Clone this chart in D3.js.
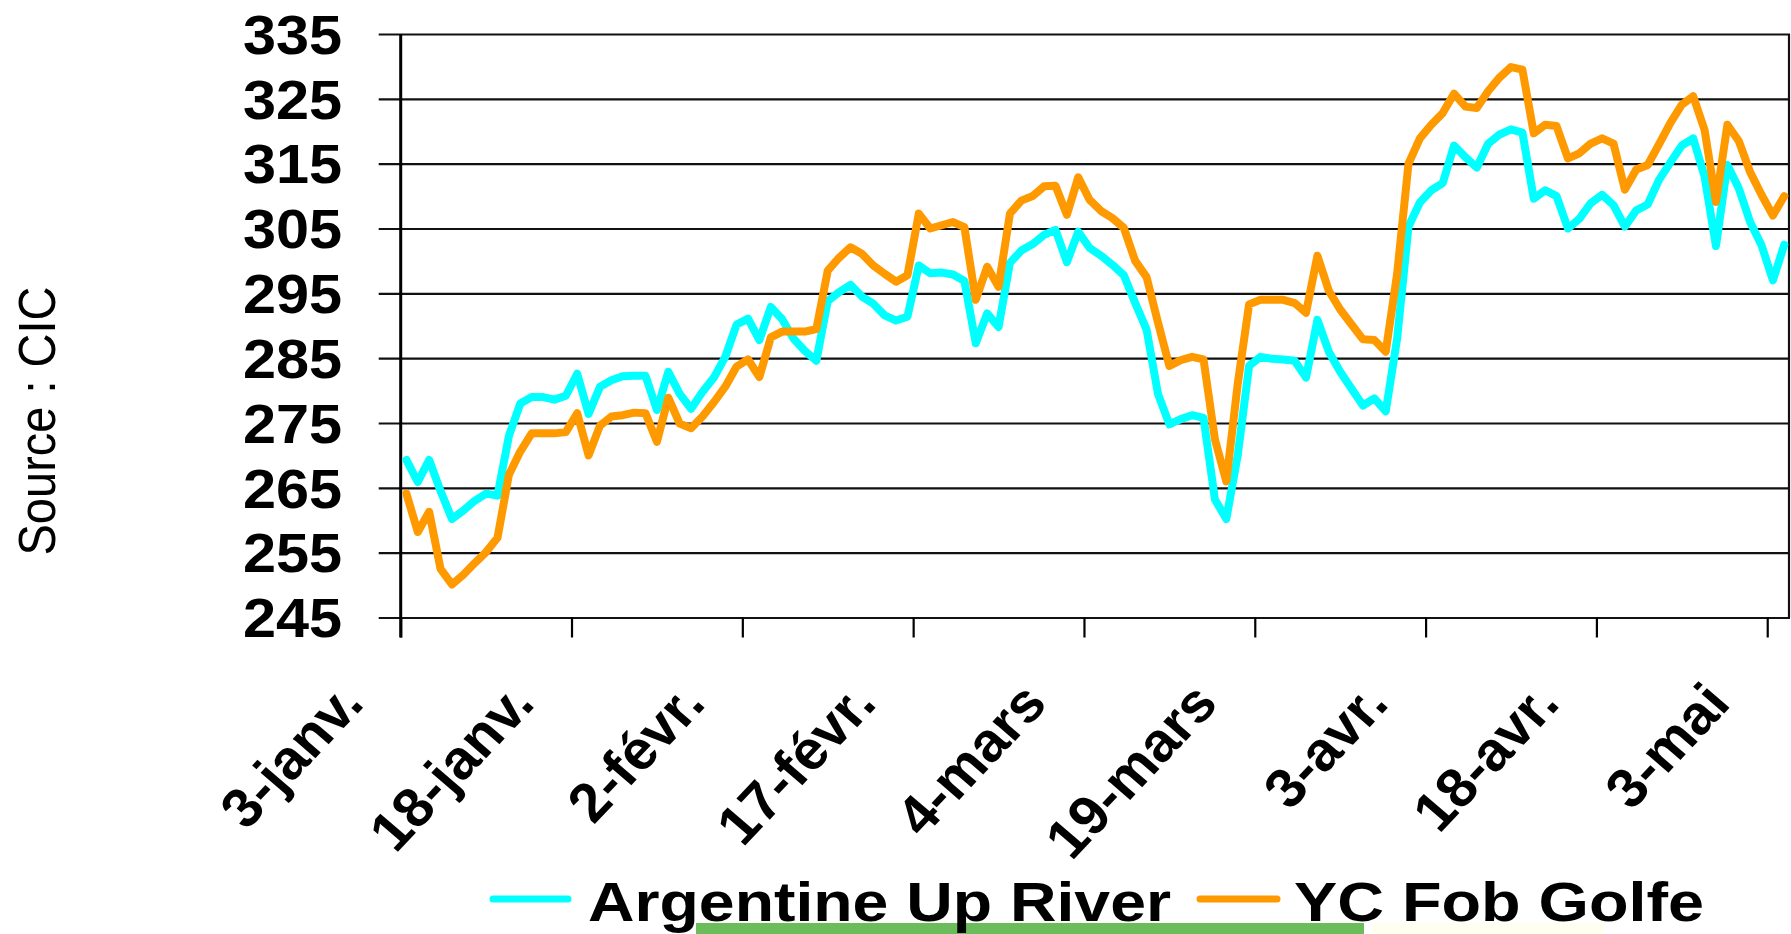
<!DOCTYPE html>
<html><head><meta charset="utf-8">
<script src="https://cdn.jsdelivr.net/npm/d3@7"></script>
<style>html,body{margin:0;padding:0;background:#fff;} svg{display:block}</style>
</head><body>
<script>
// ---- DATA ----
const dates = [
"2011-01-03","2011-01-04","2011-01-05","2011-01-06","2011-01-07","2011-01-08","2011-01-09","2011-01-10","2011-01-11","2011-01-12",
"2011-01-13","2011-01-14","2011-01-15","2011-01-16","2011-01-17","2011-01-18","2011-01-19","2011-01-20","2011-01-21","2011-01-22",
"2011-01-23","2011-01-24","2011-01-25","2011-01-26","2011-01-27","2011-01-28","2011-01-29","2011-01-30","2011-01-31","2011-02-01",
"2011-02-02","2011-02-03","2011-02-04","2011-02-05","2011-02-06","2011-02-07","2011-02-08","2011-02-09","2011-02-10","2011-02-11",
"2011-02-12","2011-02-13","2011-02-14","2011-02-15","2011-02-16","2011-02-17","2011-02-18","2011-02-19","2011-02-20","2011-02-21",
"2011-02-22","2011-02-23","2011-02-24","2011-02-25","2011-02-26","2011-02-27","2011-02-28","2011-03-01","2011-03-02","2011-03-03",
"2011-03-04","2011-03-05","2011-03-06","2011-03-07","2011-03-08","2011-03-09","2011-03-10","2011-03-11","2011-03-12","2011-03-13",
"2011-03-14","2011-03-15","2011-03-16","2011-03-17","2011-03-18","2011-03-19","2011-03-20","2011-03-21","2011-03-22","2011-03-23",
"2011-03-24","2011-03-25","2011-03-26","2011-03-27","2011-03-28","2011-03-29","2011-03-30","2011-03-31","2011-04-01","2011-04-02",
"2011-04-03","2011-04-04","2011-04-05","2011-04-06","2011-04-07","2011-04-08","2011-04-09","2011-04-10","2011-04-11","2011-04-12",
"2011-04-13","2011-04-14","2011-04-15","2011-04-16","2011-04-17","2011-04-18","2011-04-19","2011-04-20","2011-04-21","2011-04-22",
"2011-04-23","2011-04-24","2011-04-25","2011-04-26","2011-04-27","2011-04-28","2011-04-29","2011-04-30","2011-05-01","2011-05-02",
"2011-05-03","2011-05-04"];

const argentineUpRiver = [
269.3,265.9,269.3,264.5,260.2,261.5,263.0,264.1,263.8,273.0,
278.0,279.0,279.0,278.6,279.2,282.6,276.4,280.6,281.6,282.2,
282.3,282.3,277.0,282.9,279.5,277.2,279.8,282.0,285.2,290.2,
291.1,287.8,292.9,291.0,288.0,286.1,284.6,293.8,295.2,296.3,
294.5,293.4,291.6,290.8,291.4,299.3,298.1,298.2,297.9,296.9,
287.3,291.9,289.8,299.7,301.6,302.6,304.0,304.8,299.8,304.5,
302.0,300.8,299.4,297.8,293.5,289.4,279.5,274.8,275.6,276.2,
275.8,263.2,260.2,270.0,283.8,285.2,284.9,284.8,284.6,282.0,
290.9,286.0,282.9,280.3,277.7,278.8,276.8,288.0,305.3,309.0,
310.9,312.0,317.8,316.0,314.4,318.1,319.5,320.3,319.8,309.6,
310.9,310.0,305.0,306.5,308.9,310.2,308.6,305.3,307.8,308.7,
312.5,315.2,317.8,318.9,313.0,302.3,314.8,311.2,306.0,302.4,
297.0,302.5];

const ycFobGolfe = [
264.1,258.2,261.3,252.5,250.1,251.6,253.4,255.1,257.3,267.0,
270.6,273.4,273.4,273.4,273.6,276.5,270.0,274.6,276.0,276.2,
276.6,276.5,272.1,278.9,274.9,274.2,276.0,278.2,280.6,283.7,
284.8,282.1,288.2,289.1,289.1,289.1,289.5,298.5,300.5,302.1,
301.1,299.3,298.0,296.8,297.8,307.3,305.0,305.5,306.0,305.2,
294.0,299.1,296.0,307.3,309.3,310.0,311.5,311.6,307.1,312.9,
309.4,307.7,306.6,305.1,300.0,297.5,290.5,283.8,284.7,285.2,
284.8,272.5,266.0,281.0,293.3,294.0,294.0,294.0,293.5,292.0,
300.8,295.4,292.5,290.2,287.9,287.8,286.0,298.0,315.0,318.9,
321.0,322.8,325.8,323.8,323.6,326.2,328.3,329.9,329.5,319.7,
321.0,320.8,315.8,316.6,318.1,318.9,318.1,311.0,314.1,314.8,
318.0,321.3,324.1,325.4,320.2,309.1,321.0,318.5,313.7,310.2,
307.0,310.0];

const yTicks = [245,255,265,275,285,295,305,315,325,335];
const xTickDates = ["2011-01-03","2011-01-18","2011-02-02","2011-02-17","2011-03-04","2011-03-19","2011-04-03","2011-04-18","2011-05-03"];
const xTickLabels = ["3-janv.","18-janv.","2-févr.","17-févr.","4-mars","19-mars","3-avr.","18-avr.","3-mai"];
const seriesNames = ["Argentine Up River","YC Fob Golfe"];
const seriesColors = ["#00FFFF","#FF9900"];
const axisTitle = "Source : CIC";

// ---- CHART ----
const W = 1791, H = 934;
const FONT = "'Liberation Sans', Arial, Helvetica, sans-serif";
const parse = d3.utcParse("%Y-%m-%d");
const plotL = 400.7, plotR = 1790, plotT = 34, plotB = 617.5;

const x = d3.scaleUtc().domain([parse("2011-01-03"), parse("2011-05-05")]).range([plotL, plotR]);
const y = d3.scaleLinear().domain([245, 335]).range([plotB, plotT]);

const svg = d3.select("body").append("svg").attr("width", W).attr("height", H);
svg.append("rect").attr("width", W).attr("height", H).attr("fill", "#fff");

// horizontal gridlines + left ticks via axis
const yAxis = d3.axisLeft(y).tickValues(yTicks).tickSizeInner(-(plotR - plotL)).tickSizeOuter(0).tickFormat("");
const gy = svg.append("g").attr("transform", `translate(${plotL},0)`).call(yAxis);
gy.select(".domain").remove();
gy.selectAll(".tick line").attr("x1", -22).attr("stroke", "#111").attr("stroke-width", 2.2);

// y labels
svg.append("g").selectAll("text").data(yTicks).join("text")
  .attr("transform", d => `translate(342,${y(d)}) scale(1.08,1)`)
  .attr("dy", "0.36em")
  .attr("text-anchor", "end")
  .attr("font-family", FONT).attr("font-weight", "bold").attr("font-size", 55)
  .attr("fill", "#000")
  .text(d => d);

// x ticks
const xAxis = d3.axisBottom(x).tickValues(xTickDates.map(parse)).tickSize(20).tickFormat("");
const gx = svg.append("g").attr("transform", `translate(0,${plotB})`).call(xAxis);
gx.select(".domain").remove();
gx.selectAll(".tick line").attr("stroke", "#000").attr("stroke-width", 2.2);

// left axis line and right border
svg.append("line").attr("x1", plotL).attr("x2", plotL).attr("y1", plotT).attr("y2", plotB + 20)
  .attr("stroke", "#000").attr("stroke-width", 3);
svg.append("line").attr("x1", plotR - 1).attr("x2", plotR - 1).attr("y1", plotT).attr("y2", plotB)
  .attr("stroke", "#111").attr("stroke-width", 2.2);

// x labels rotated
svg.append("g").selectAll("text").data(xTickDates).join("text")
  .attr("transform", d => `translate(${x(parse(d)) - 35},705) scale(1.05,1) rotate(-48)`)
  .attr("text-anchor", "end")
  .attr("font-family", FONT).attr("font-weight", "bold").attr("font-size", 55)
  .attr("fill", "#000")
  .text((d, i) => xTickLabels[i]);

// series lines (points at mid-day)
const mid = s => d3.utcHour.offset(parse(s), 12);
const line = d3.line().x(d => x(mid(d.date))).y(d => y(d.v));
[argentineUpRiver, ycFobGolfe].forEach((vals, si) => {
  const data = dates.map((d, i) => ({date: d, v: vals[i]}));
  svg.append("path").datum(data).attr("d", line)
    .attr("fill", "none").attr("stroke", seriesColors[si]).attr("stroke-width", 8)
    .attr("stroke-linejoin", "round").attr("stroke-linecap", "round");
});

// y-axis title
svg.append("text")
  .attr("transform", `translate(55,421) scale(1.1,1) rotate(-90)`)
  .attr("text-anchor", "middle")
  .attr("font-family", FONT).attr("font-size", 47).attr("fill", "#000")
  .text(axisTitle);

// bottom decorative bar
svg.append("rect").attr("x", 696).attr("y", 923).attr("width", 668).attr("height", 11).attr("fill", "#6bbd5c");
svg.append("rect").attr("x", 1372).attr("y", 923).attr("width", 232).attr("height", 11).attr("fill", "#fffff0");

// legend
const legend = [
  {name: seriesNames[0], color: seriesColors[0], lx1: 493, lx2: 568, tx: 588, tl: 583},
  {name: seriesNames[1], color: seriesColors[1], lx1: 1200, lx2: 1277, tx: 1294, tl: 410}
];
const lg = svg.append("g");
lg.selectAll("line").data(legend).join("line")
  .attr("x1", d => d.lx1).attr("x2", d => d.lx2).attr("y1", 899).attr("y2", 899)
  .attr("stroke", d => d.color).attr("stroke-width", 7).attr("stroke-linecap", "round");
lg.selectAll("text").data(legend).join("text")
  .attr("x", d => d.tx).attr("y", 921)
  .attr("textLength", d => d.tl).attr("lengthAdjust", "spacingAndGlyphs")
  .attr("font-family", FONT).attr("font-weight", "bold").attr("font-size", 56).attr("fill", "#000")
  .text(d => d.name);
</script>
</body></html>
